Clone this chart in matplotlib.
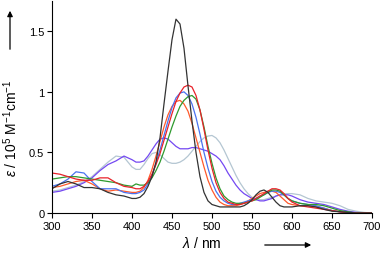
import matplotlib
matplotlib.use("Agg")
import matplotlib.pyplot as plt

plt.rcParams['font.family'] = ['Liberation Sans', 'DejaVu Sans']
plt.rcParams['mathtext.fontset'] = 'custom'
plt.rcParams['mathtext.rm'] = 'Liberation Sans'
plt.rcParams['mathtext.it'] = 'Liberation Sans:italic'

#wavelength grid (nm), finer around the main bands
wl = [300, 310, 320, 330, 340, 350, 360, 370, 380, 390, 400,
      405, 410, 415, 420, 425, 430, 435, 440, 445, 450, 455, 460, 465, 470,
      475, 480, 485, 490, 495, 500, 505, 510, 515, 520, 525, 530, 535, 540,
      545, 550, 555, 560, 565, 570, 575, 580, 585, 590, 595,
      600, 610, 620, 630, 640, 650, 660, 670, 680, 690, 700]

#absorption in 10^5 M-1 cm-1
gray = [0.18, 0.19, 0.21, 0.23, 0.26, 0.30, 0.36, 0.42, 0.47, 0.46, 0.38,
        0.36, 0.36, 0.40, 0.45, 0.49, 0.50, 0.48, 0.45, 0.42, 0.41, 0.41, 0.42, 0.44, 0.47,
        0.51, 0.55, 0.59, 0.62, 0.635, 0.64, 0.62, 0.58, 0.52, 0.45, 0.38, 0.31, 0.25, 0.20,
        0.16, 0.13, 0.12, 0.11, 0.11, 0.12, 0.13, 0.14, 0.15, 0.16, 0.16,
        0.16, 0.15, 0.12, 0.10, 0.09, 0.08, 0.06, 0.03, 0.015, 0.005, 0.0]

purple = [0.17, 0.18, 0.20, 0.22, 0.25, 0.29, 0.35, 0.40, 0.43, 0.47, 0.44,
          0.42, 0.42, 0.43, 0.47, 0.52, 0.57, 0.61, 0.62, 0.61, 0.58, 0.55, 0.53, 0.53, 0.53,
          0.54, 0.54, 0.53, 0.52, 0.51, 0.49, 0.47, 0.44, 0.39, 0.33, 0.28, 0.23, 0.19, 0.16,
          0.14, 0.12, 0.11, 0.10, 0.10, 0.11, 0.12, 0.14, 0.15, 0.15, 0.15,
          0.14, 0.11, 0.09, 0.08, 0.07, 0.05, 0.03, 0.015, 0.005, 0.0, 0.0]

orange = [0.21, 0.22, 0.24, 0.26, 0.27, 0.24, 0.20, 0.18, 0.19, 0.18, 0.17,
          0.17, 0.18, 0.21, 0.27, 0.36, 0.47, 0.59, 0.71, 0.81, 0.88, 0.92, 0.93, 0.90, 0.84,
          0.74, 0.62, 0.50, 0.38, 0.27, 0.19, 0.13, 0.09, 0.07, 0.06, 0.06, 0.06, 0.07, 0.08,
          0.10, 0.12, 0.14, 0.16, 0.17, 0.18, 0.18, 0.17, 0.14, 0.11, 0.08,
          0.07, 0.06, 0.06, 0.05, 0.04, 0.02, 0.01, 0.005, 0.0, 0.0, 0.0]

blue = [0.22, 0.24, 0.28, 0.34, 0.33, 0.26, 0.20, 0.20, 0.20, 0.17, 0.16,
        0.16, 0.17, 0.19, 0.24, 0.31, 0.41, 0.52, 0.64, 0.76, 0.87, 0.95, 0.99, 1.00, 0.97,
        0.90, 0.79, 0.65, 0.50, 0.37, 0.26, 0.18, 0.13, 0.10, 0.08, 0.07, 0.07, 0.08, 0.09,
        0.10, 0.11, 0.12, 0.14, 0.15, 0.17, 0.18, 0.18, 0.17, 0.15, 0.12,
        0.10, 0.08, 0.07, 0.06, 0.04, 0.02, 0.01, 0.005, 0.0, 0.0, 0.0]

green = [0.28, 0.29, 0.30, 0.30, 0.29, 0.28, 0.27, 0.26, 0.25, 0.23, 0.22,
         0.24, 0.23, 0.23, 0.25, 0.29, 0.35, 0.42, 0.51, 0.61, 0.71, 0.80, 0.88, 0.93, 0.96,
         0.97, 0.94, 0.85, 0.71, 0.55, 0.41, 0.29, 0.20, 0.14, 0.11, 0.09, 0.08, 0.08, 0.08,
         0.09, 0.10, 0.11, 0.13, 0.15, 0.17, 0.19, 0.19, 0.18, 0.15, 0.12,
         0.10, 0.08, 0.07, 0.07, 0.06, 0.04, 0.02, 0.01, 0.0, 0.0, 0.0]

red = [0.33, 0.32, 0.30, 0.28, 0.27, 0.27, 0.29, 0.29, 0.25, 0.22, 0.21,
       0.20, 0.20, 0.22, 0.26, 0.32, 0.40, 0.49, 0.60, 0.71, 0.82, 0.92, 0.99, 1.04, 1.055,
       1.04, 0.97, 0.85, 0.69, 0.52, 0.37, 0.25, 0.17, 0.12, 0.09, 0.08, 0.07, 0.07, 0.08,
       0.09, 0.10, 0.12, 0.14, 0.16, 0.18, 0.20, 0.20, 0.19, 0.16, 0.12,
       0.09, 0.06, 0.05, 0.04, 0.03, 0.02, 0.01, 0.0, 0.0, 0.0, 0.0]

black = [0.20, 0.24, 0.26, 0.24, 0.21, 0.21, 0.20, 0.17, 0.15, 0.14, 0.12,
         0.12, 0.13, 0.16, 0.22, 0.30, 0.42, 0.62, 0.90, 1.17, 1.43, 1.60, 1.56, 1.36, 1.05,
         0.76, 0.50, 0.30, 0.17, 0.10, 0.07, 0.06, 0.05, 0.05, 0.05, 0.05, 0.05, 0.05, 0.06,
         0.08, 0.11, 0.15, 0.18, 0.19, 0.17, 0.13, 0.09, 0.06, 0.05, 0.05,
         0.05, 0.06, 0.06, 0.05, 0.03, 0.015, 0.01, 0.005, 0.0, 0.0, 0.0]

xticks = [300, 350, 400, 450, 500, 550, 600, 650, 700]
yticks = [0, 0.5, 1, 1.5]
ytick_labels = ['0', '0.5', '1', '1.5']

fig = plt.figure(figsize=(3.84, 2.55), dpi=100)
ax = fig.add_axes([0.1354, 0.1608, 0.8333, 0.8314])

ax.plot(wl, gray, color='#b4c6d2', lw=0.9)
ax.plot(wl, purple, color='#7448f2', lw=0.9)
ax.plot(wl, orange, color='#ff5a2c', lw=0.9)
ax.plot(wl, blue, color='#4a72f0', lw=0.9)
ax.plot(wl, green, color='#2e9a2e', lw=0.9)
ax.plot(wl, red, color='#e8222a', lw=0.9)
ax.plot(wl, black, color='#333333', lw=0.9)

ax.set_xlim(300, 700)
ax.set_ylim(0, 1.75)
ax.set_xticks(xticks)
ax.set_yticks(yticks)
ax.set_yticklabels(ytick_labels)
ax.tick_params(direction='out', length=3.5, width=0.8, labelsize=8, pad=2)
for s in ['top', 'right']:
    ax.spines[s].set_visible(False)
for s in ['left', 'bottom']:
    ax.spines[s].set_linewidth(0.8)

#axis labels with arrows, placed in figure pixels
fig.text(202 / 384, 1 - 244 / 255, r'$\lambda$ / nm', ha='center', va='center', fontsize=10)
ax.annotate('', xy=(314 / 384, 1 - 246 / 255), xytext=(262 / 384, 1 - 246 / 255),
            xycoords='figure fraction', textcoords='figure fraction',
            arrowprops=dict(arrowstyle='-|>', color='black', lw=0.9, mutation_scale=8))
fig.text(11 / 384, 1 - 128 / 255, r'$\varepsilon$ / 10$^5$ M$^{-1}$cm$^{-1}$',
         ha='center', va='center', rotation=90, fontsize=10)
ax.annotate('', xy=(10 / 384, 1 - 9 / 255), xytext=(10 / 384, 1 - 53 / 255),
            xycoords='figure fraction', textcoords='figure fraction',
            arrowprops=dict(arrowstyle='-|>', color='black', lw=0.9, mutation_scale=8))

fig.savefig('out.png', dpi=100)
